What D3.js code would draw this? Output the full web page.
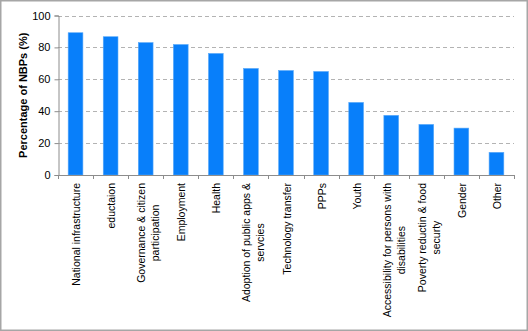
<!DOCTYPE html>
<html><head><meta charset="utf-8">
<script src="https://cdn.jsdelivr.net/npm/d3@7"></script>
<style>
html,body{margin:0;padding:0;background:#fff;}
svg{display:block;font-family:"Liberation Sans",Arial,sans-serif;}
</style></head>
<body>
<svg id="chart" width="528" height="331"></svg>
<script>
const categories = [
  ["National infrastructure"],
  ["eductaion"],
  ["Governance & citizen","participation"],
  ["Employment"],
  ["Health"],
  ["Adoption of public apps &","servcies"],
  ["Technology transfer"],
  ["PPPs"],
  ["Youth"],
  ["Accessibility for persons with","disabilities"],
  ["Poverty reductin & food","securty"],
  ["Gender"],
  ["Other"]
];
const values = [89.2, 86.7, 83, 81.8, 76.2, 66.8, 65.5, 64.9, 45.5, 37.4, 31.7, 29.4, 14.2];
const yTicks = [0, 20, 40, 60, 80, 100];
const yTitle = "Percentage of NBPs (%)";

(function () {
const W = 528, H = 331;
const svg = d3.select("#chart");
svg.append("rect").attr("x",0.75).attr("y",0.75).attr("width",W-1.5).attr("height",H-1.5)
  .attr("fill","#fff").attr("stroke","#a6a6a6").attr("stroke-width",1.5);

const pLeft = 58, pRight = 514, pTop = 15.5, pBottom = 175;
const x = d3.scaleBand().domain(d3.range(categories.length)).range([pLeft, pRight]).paddingInner(0.58).paddingOuter(0.29);
const y = d3.scaleLinear().domain([0, 100]).range([pBottom, pTop]);

// gridlines
svg.append("g").selectAll("line").data(yTicks.filter(d => d > 0)).join("line")
  .attr("x1", pLeft).attr("x2", pRight)
  .attr("y1", d => Math.round(y(d)) + 0.5).attr("y2", d => Math.round(y(d)) + 0.5)
  .attr("stroke", "#b3b3b3").attr("stroke-width", 1.2).attr("stroke-dasharray", "4,3");

// bars
svg.append("g").selectAll("rect").data(values).join("rect")
  .attr("x", (d, i) => x(i)).attr("width", x.bandwidth())
  .attr("y", d => y(d)).attr("height", d => y(0) - y(d))
  .attr("fill", "#087ffa").attr("stroke", "#59a9f9").attr("stroke-width", 0.6);

// y axis
const yAxis = svg.append("g").attr("transform", `translate(${pLeft + 0.5},0)`)
  .call(d3.axisLeft(y).tickValues(yTicks).tickSize(4).tickPadding(4));
yAxis.select(".domain").attr("stroke", "#8c8c8c");
yAxis.selectAll(".tick line").attr("stroke", "#8c8c8c");
yAxis.selectAll("text").attr("font-size", 11).attr("fill", "#000").attr("font-family", "Liberation Sans, Arial, sans-serif");

// x axis
const step = (pRight - pLeft) / categories.length;
const xg = svg.append("g");
xg.append("line").attr("x1", pLeft).attr("x2", pRight).attr("y1", pBottom + 0.5).attr("y2", pBottom + 0.5).attr("stroke", "#8c8c8c");
xg.selectAll("line.tk").data(d3.range(categories.length + 1)).join("line").attr("class", "tk")
  .attr("x1", i => Math.round(pLeft + i * step) + 0.5).attr("x2", i => Math.round(pLeft + i * step) + 0.5)
  .attr("y1", pBottom).attr("y2", pBottom + 4).attr("stroke", "#8c8c8c");

// x labels, rotated -90, end-anchored at top, lines centered within block
const labelTop = 183;
const lineH = 14;
categories.forEach((lines, i) => {
  const cx = x(i) + x.bandwidth() / 2;
  const g = xg.append("g").attr("transform", `translate(${cx},${labelTop}) rotate(-90)`);
  const texts = lines.map(l => g.append("text").text(l).attr("font-size", 10.5).attr("fill", "#000"));
  const maxW = d3.max(texts, t => t.node().getComputedTextLength());
  const n = lines.length;
  const base = n === 1 ? 4.5 : 6.5;
  texts.forEach((t, k) => {
    t.attr("text-anchor", "middle").attr("x", -maxW / 2)
     .attr("y", (k - (n - 1) / 2) * lineH + base);
  });
});

// y title
svg.append("text").attr("transform", `translate(27,${(pTop + pBottom) / 2}) rotate(-90)`)
  .attr("text-anchor", "middle").attr("font-size", 11).attr("font-weight", "bold").text(yTitle);
})();
</script>
</body></html>
